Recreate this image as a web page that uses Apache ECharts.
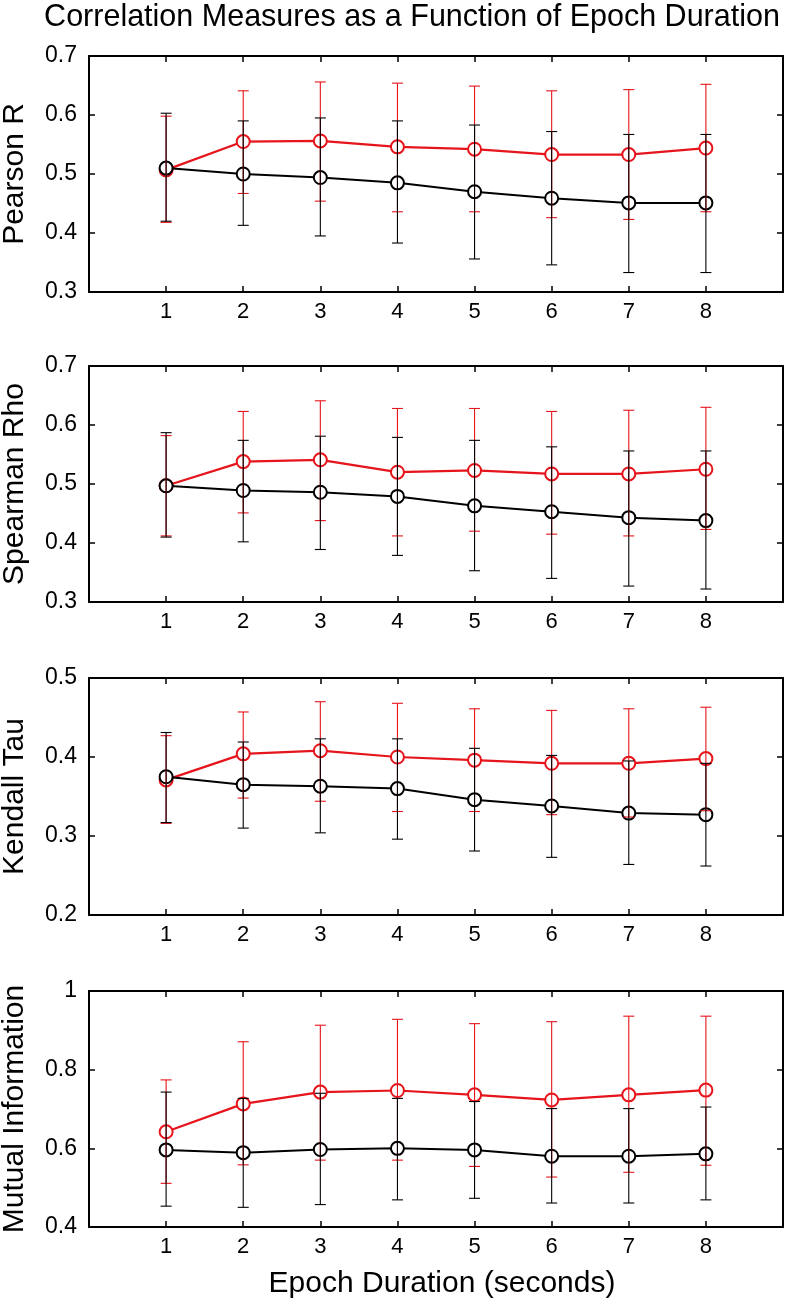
<!DOCTYPE html>
<html>
<head>
<meta charset="utf-8">
<script src="https://cdn.jsdelivr.net/npm/echarts@6/dist/echarts.min.js"></script>
<style>html,body{margin:0;padding:0;background:#fff;}#c{width:786px;height:1302px;}</style>
</head>
<body>
<div id="c"></div>
<script>
// ---- data ----
const epochs = [1, 2, 3, 4, 5, 6, 7, 8];
const xTickLabels = [1, 2, 3, 4, 5, 6, 7, 8];
const panelNames = ['Pearson R', 'Spearman Rho', 'Kendall Tau', 'Mutual Information'];
const yMins = [0.3, 0.3, 0.2, 0.4];
const yMaxs = [0.7, 0.7, 0.5, 1.0];
const yIntervals = [0.1, 0.1, 0.1, 0.2];

// Pearson R
const pearsonRedMean  = [0.507, 0.555, 0.556, 0.546, 0.542, 0.533, 0.533, 0.544];
const pearsonRedHi    = [0.598, 0.641, 0.656, 0.654, 0.649, 0.641, 0.643, 0.652];
const pearsonRedLo    = [0.418, 0.467, 0.454, 0.436, 0.436, 0.426, 0.423, 0.436];
const pearsonBlkMean  = [0.510, 0.500, 0.494, 0.485, 0.470, 0.459, 0.451, 0.451];
const pearsonBlkHi    = [0.603, 0.590, 0.595, 0.590, 0.583, 0.572, 0.567, 0.567];
const pearsonBlkLo    = [0.420, 0.413, 0.395, 0.383, 0.356, 0.346, 0.333, 0.333];

// Spearman Rho
const spearmanRedMean = [0.497, 0.538, 0.541, 0.520, 0.523, 0.517, 0.517, 0.525];
const spearmanRedHi   = [0.582, 0.623, 0.641, 0.628, 0.628, 0.623, 0.625, 0.630];
const spearmanRedLo   = [0.412, 0.451, 0.438, 0.412, 0.420, 0.415, 0.412, 0.423];
const spearmanBlkMean = [0.497, 0.489, 0.486, 0.479, 0.463, 0.453, 0.443, 0.438];
const spearmanBlkHi   = [0.587, 0.574, 0.581, 0.579, 0.574, 0.563, 0.556, 0.556];
const spearmanBlkLo   = [0.410, 0.402, 0.389, 0.379, 0.353, 0.340, 0.327, 0.322];

// Kendall Tau
const kendallRedMean  = [0.371, 0.404, 0.408, 0.400, 0.396, 0.392, 0.392, 0.398];
const kendallRedHi    = [0.427, 0.457, 0.470, 0.468, 0.461, 0.459, 0.461, 0.463];
const kendallRedLo    = [0.316, 0.348, 0.344, 0.331, 0.331, 0.327, 0.324, 0.332];
const kendallBlkMean  = [0.375, 0.365, 0.363, 0.360, 0.346, 0.338, 0.329, 0.327];
const kendallBlkHi    = [0.431, 0.419, 0.423, 0.423, 0.411, 0.402, 0.395, 0.392];
const kendallBlkLo    = [0.317, 0.310, 0.304, 0.296, 0.281, 0.273, 0.264, 0.262];

// Mutual Information
const miRedMean       = [0.642, 0.713, 0.743, 0.747, 0.736, 0.723, 0.736, 0.748];
const miRedHi         = [0.774, 0.871, 0.913, 0.928, 0.917, 0.922, 0.936, 0.936];
const miRedLo         = [0.511, 0.558, 0.570, 0.570, 0.554, 0.527, 0.539, 0.557];
const miBlkMean       = [0.596, 0.589, 0.597, 0.600, 0.596, 0.580, 0.580, 0.586];
const miBlkHi         = [0.743, 0.727, 0.740, 0.727, 0.719, 0.701, 0.701, 0.705];
const miBlkLo         = [0.453, 0.450, 0.457, 0.469, 0.473, 0.461, 0.461, 0.469];

const panels = [
  {red: [pearsonRedMean, pearsonRedLo, pearsonRedHi], blk: [pearsonBlkMean, pearsonBlkLo, pearsonBlkHi]},
  {red: [spearmanRedMean, spearmanRedLo, spearmanRedHi], blk: [spearmanBlkMean, spearmanBlkLo, spearmanBlkHi]},
  {red: [kendallRedMean, kendallRedLo, kendallRedHi], blk: [kendallBlkMean, kendallBlkLo, kendallBlkHi]},
  {red: [miRedMean, miRedLo, miRedHi], blk: [miBlkMean, miBlkLo, miBlkHi]}
];

// ---- layout / style ----
const FONT = "'Liberation Sans', Arial, Helvetica, sans-serif";
const RED = '#e6141b';
const BLACK = '#000000';
const gridTops = [56, 366, 678, 991];
const gridHeights = [236, 236, 237, 236];
const gridLeft = 89, gridWidth = 694;

const chart = echarts.init(document.getElementById('c'), null, {renderer: 'canvas'});

function errRender(color, lw) {
  return function (params, api) {
    const x = api.value(0);
    const pLo = api.coord([x, api.value(1)]);
    const pHi = api.coord([x, api.value(2)]);
    const hw = 5.5;
    const st = {stroke: color, lineWidth: lw};
    return {
      type: 'group',
      children: [
        {type: 'line', shape: {x1: pLo[0], y1: pLo[1], x2: pHi[0], y2: pHi[1]}, style: st},
        {type: 'line', shape: {x1: pLo[0] - hw, y1: pLo[1], x2: pLo[0] + hw, y2: pLo[1]}, style: st},
        {type: 'line', shape: {x1: pHi[0] - hw, y1: pHi[1], x2: pHi[0] + hw, y2: pHi[1]}, style: st}
      ]
    };
  };
}

const grids = [], xAxes = [], yAxes = [], series = [];
const axisLineStyle = {show: true, onZero: false, lineStyle: {color: '#000', width: 2}};
const tickStyle = {color: '#000', width: 1.5};

panels.forEach((p, i) => {
  grids.push({left: gridLeft, width: gridWidth, top: gridTops[i], height: gridHeights[i],
    containLabel: false, outerBoundsMode: 'none'});
  xAxes.push({
    type: 'value', gridIndex: i, position: 'bottom', min: 0, max: 9, interval: 1,
    axisLine: axisLineStyle, splitLine: {show: false},
    axisTick: {show: true, inside: true, length: 6, lineStyle: tickStyle, customValues: xTickLabels},
    axisLabel: {show: true, customValues: xTickLabels, fontSize: 22, color: '#000', fontFamily: FONT, margin: 9}
  });
  xAxes.push({
    type: 'value', gridIndex: i, position: 'top', min: 0, max: 9, interval: 1,
    axisLine: axisLineStyle, splitLine: {show: false},
    axisTick: {show: true, inside: true, length: 6, lineStyle: tickStyle, customValues: xTickLabels},
    axisLabel: {show: false}
  });
  yAxes.push({
    type: 'value', gridIndex: i, position: 'left', min: yMins[i], max: yMaxs[i], interval: yIntervals[i],
    axisLine: axisLineStyle, splitLine: {show: false},
    axisTick: {show: true, inside: true, length: 6, lineStyle: tickStyle},
    axisLabel: {show: true, fontSize: 23, color: '#000', fontFamily: FONT, margin: 12,
      formatter: v => String(Math.round(v * 10) / 10)},
    name: panelNames[i], nameLocation: 'middle', nameGap: 59,
    nameTextStyle: {fontSize: 30, color: '#000', fontFamily: FONT}
  });
  yAxes.push({
    type: 'value', gridIndex: i, position: 'right', min: yMins[i], max: yMaxs[i], interval: yIntervals[i],
    axisLine: axisLineStyle, splitLine: {show: false},
    axisTick: {show: true, inside: true, length: 6, lineStyle: tickStyle},
    axisLabel: {show: false}
  });
  const xa = 2 * i, ya = 2 * i;
  series.push({
    type: 'line', xAxisIndex: xa, yAxisIndex: ya, z: 2,
    data: epochs.map((e, k) => [e, p.red[0][k]]),
    symbol: 'emptyCircle', symbolSize: 13,
    lineStyle: {color: RED, width: 2.2},
    itemStyle: {color: RED, borderColor: RED, borderWidth: 2.2},
    animation: false
  });
  series.push({
    type: 'line', xAxisIndex: xa, yAxisIndex: ya, z: 3,
    data: epochs.map((e, k) => [e, p.blk[0][k]]),
    symbol: 'emptyCircle', symbolSize: 13,
    lineStyle: {color: BLACK, width: 2},
    itemStyle: {color: BLACK, borderColor: BLACK, borderWidth: 2.2},
    animation: false
  });
  series.push({
    type: 'custom', xAxisIndex: xa, yAxisIndex: ya, z: 4,
    data: epochs.map((e, k) => [e, p.red[1][k], p.red[2][k]]),
    encode: {x: 0, y: [1, 2]},
    renderItem: errRender(RED, 1.1), animation: false, silent: true
  });
  series.push({
    type: 'custom', xAxisIndex: xa, yAxisIndex: ya, z: 5,
    data: epochs.map((e, k) => [e, p.blk[1][k], p.blk[2][k]]),
    encode: {x: 0, y: [1, 2]},
    renderItem: errRender(BLACK, 1.1), animation: false, silent: true
  });
});

chart.setOption({
  animation: false,
  backgroundColor: '#fff',
  textStyle: {fontFamily: FONT},
  grid: grids,
  xAxis: xAxes,
  yAxis: yAxes,
  series: series,
  graphic: [
    {type: 'text', x: 412, y: 18, style: {text: 'Correlation Measures as a Function of Epoch Duration',
      font: '30.5px ' + FONT, fill: '#000', textAlign: 'center', textVerticalAlign: 'middle'}},
    {type: 'text', x: 442, y: 1284, style: {text: 'Epoch Duration (seconds)',
      font: '30px ' + FONT, fill: '#000', textAlign: 'center', textVerticalAlign: 'middle'}}
  ]
});
</script>
</body>
</html>
